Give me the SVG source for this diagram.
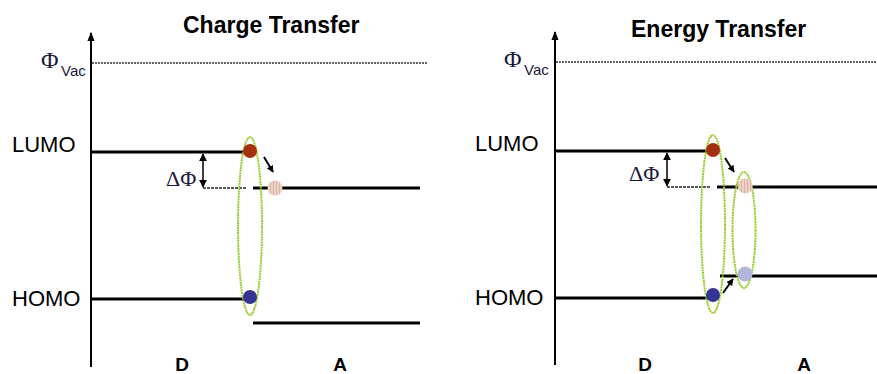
<svg xmlns="http://www.w3.org/2000/svg" width="877" height="374" viewBox="0 0 877 374">
<style>
.title{font-family:"Liberation Sans",Arial,sans-serif;font-weight:bold;font-size:23px;fill:#000}
.lbl{font-family:"Liberation Sans",Arial,sans-serif;font-size:22px;fill:#000}
.da{font-family:"Liberation Sans",Arial,sans-serif;font-weight:bold;font-size:19px;fill:#000;text-anchor:middle}
.phi{font-family:"Liberation Serif","Times New Roman",serif;font-size:24px;fill:#1a1a3a}
.dphi{font-family:"Liberation Serif","Times New Roman",serif;font-size:22px;fill:#1a1a3a}
.sub{font-family:"Liberation Sans",Arial,sans-serif;font-size:15px;fill:#1a1a3a}
.axis{stroke:#000;stroke-width:2;fill:none}
.lvl{stroke:#000;stroke-width:3;fill:none}
.vac{stroke:#333;stroke-width:1.5;stroke-dasharray:2 1;fill:none}
.dash{stroke:#222;stroke-width:1.5;stroke-dasharray:3 1;fill:none}
.ring{stroke:#9acd32;stroke-width:2;stroke-dasharray:2 0.6;fill:none}
.thin{stroke:#000;stroke-width:1.5;fill:none}
.small{stroke:#000;stroke-width:2;fill:none}
.e{fill:#a3300e}
.h{fill:#343494}
.ep{fill:url(#pinkStripe)}
.hp{fill:#b4b4dc}
</style>
<defs>
<pattern id="pinkStripe" width="3" height="3" patternUnits="userSpaceOnUse">
<rect width="3" height="3" fill="#ecd2c6"/>
<rect width="1" height="3" fill="#dcb4a6"/>
</pattern>
<marker id="ah" viewBox="0 0 10 10" refX="9" refY="5" markerWidth="7" markerHeight="7" markerUnits="userSpaceOnUse" orient="auto">
<path d="M0,0 L10,5 L0,10 z" fill="#000"/>
</marker>
<marker id="ahs" viewBox="0 0 10 10" refX="9" refY="5" markerWidth="8" markerHeight="8" markerUnits="userSpaceOnUse" orient="auto-start-reverse">
<path d="M0,0 L10,5 L0,10 z" fill="#000"/>
</marker>
<marker id="axh" viewBox="0 0 10 10" refX="9" refY="5" markerWidth="9" markerHeight="9" markerUnits="userSpaceOnUse" orient="auto">
<path d="M0,1 L10,5 L0,9 z" fill="#000"/>
</marker>
</defs>

<!-- ===== Left panel: Charge Transfer ===== -->
<g id="title-charge"><text class="title" x="183" y="33">Charge Transfer</text></g>
<g id="axis-left"><line class="axis" x1="91" y1="367" x2="91" y2="33" marker-end="url(#axh)"/></g>
<g id="vac-left">
<line class="vac" x1="92" y1="63" x2="427" y2="63"/>
<text class="phi" x="41" y="68">Φ</text><text class="sub" x="61" y="76">Vac</text>
</g>
<g id="lumo-d-left">
<text class="lbl" x="12" y="152">LUMO</text>
<line class="lvl" x1="91" y1="152" x2="246" y2="152"/>
</g>
<g id="lumo-a-left">
<line class="dash" x1="203" y1="188" x2="247" y2="188"/>
<line class="lvl" x1="253" y1="188" x2="420" y2="188"/>
</g>
<g id="homo-d-left">
<text class="lbl" x="12" y="306">HOMO</text>
<line class="lvl" x1="91" y1="299" x2="246" y2="299"/>
</g>
<g id="homo-a-left"><line class="lvl" x1="253" y1="323" x2="420" y2="323"/></g>
<g id="dphi-left"><text class="dphi" x="166" y="186">ΔΦ</text></g>
<g id="exciton-left"><ellipse class="ring" cx="250" cy="226" rx="12" ry="89"/></g>
<g id="electron-left"><circle class="e" cx="250" cy="151" r="7"/></g>
<g id="hole-left"><circle class="h" cx="250" cy="297" r="7"/></g>
<g id="acceptor-e-left"><circle class="ep" cx="275" cy="188" r="7.5"/></g>
<g id="labels-left">
<text class="da" x="182" y="371">D</text>
<text class="da" x="340" y="371">A</text>
</g>

<!-- ===== Right panel: Energy Transfer ===== -->
<g id="title-energy"><text class="title" x="631" y="37">Energy Transfer</text></g>
<g id="axis-right"><line class="axis" x1="555" y1="365" x2="555" y2="32" marker-end="url(#axh)"/></g>
<g id="vac-right">
<line class="vac" x1="556" y1="62" x2="877" y2="62"/>
<text class="phi" x="504" y="67">Φ</text><text class="sub" x="524" y="75">Vac</text>
</g>
<g id="lumo-d-right">
<text class="lbl" x="475" y="151">LUMO</text>
<line class="lvl" x1="555" y1="151" x2="711" y2="151"/>
</g>
<g id="lumo-a-right">
<line class="dash" x1="667" y1="187" x2="710" y2="187"/>
<line class="lvl" x1="717" y1="187" x2="877" y2="187"/>
</g>
<g id="homo-d-right">
<text class="lbl" x="475" y="305">HOMO</text>
<line class="lvl" x1="555" y1="298" x2="711" y2="298"/>
</g>
<g id="homo-a-right"><line class="lvl" x1="720" y1="276" x2="877" y2="276"/></g>
<g id="dphi-right"><text class="dphi" x="629" y="181">ΔΦ</text></g>
<g id="exciton-d-right"><ellipse class="ring" cx="713" cy="224" rx="12" ry="89"/></g>
<g id="exciton-a-right"><ellipse class="ring" cx="744" cy="230" rx="11.5" ry="58"/></g>
<g id="electron-right"><circle class="e" cx="713" cy="150" r="7"/></g>
<g id="hole-right"><circle class="h" cx="713" cy="295" r="7"/></g>
<g id="acceptor-e-right"><circle class="ep" cx="745" cy="186" r="7.5"/></g>
<g id="acceptor-h-right"><circle class="hp" cx="745" cy="274" r="7.5"/></g>
<g id="labels-right">
<text class="da" x="645" y="371">D</text>
<text class="da" x="804" y="371">A</text>
</g>

<!-- ===== Connectors ===== -->
<g id="connectors">
<line class="thin" x1="203" y1="154" x2="203" y2="187" marker-start="url(#ahs)" marker-end="url(#ahs)"/>
<line class="small" x1="264" y1="157" x2="273" y2="172" marker-end="url(#ah)"/>
<line class="thin" x1="667" y1="153" x2="667" y2="186" marker-start="url(#ahs)" marker-end="url(#ahs)"/>
<line class="small" x1="725" y1="158" x2="734" y2="172" marker-end="url(#ah)"/>
<line class="small" x1="723" y1="293" x2="733" y2="279" marker-end="url(#ah)"/>
</g>
</svg>
